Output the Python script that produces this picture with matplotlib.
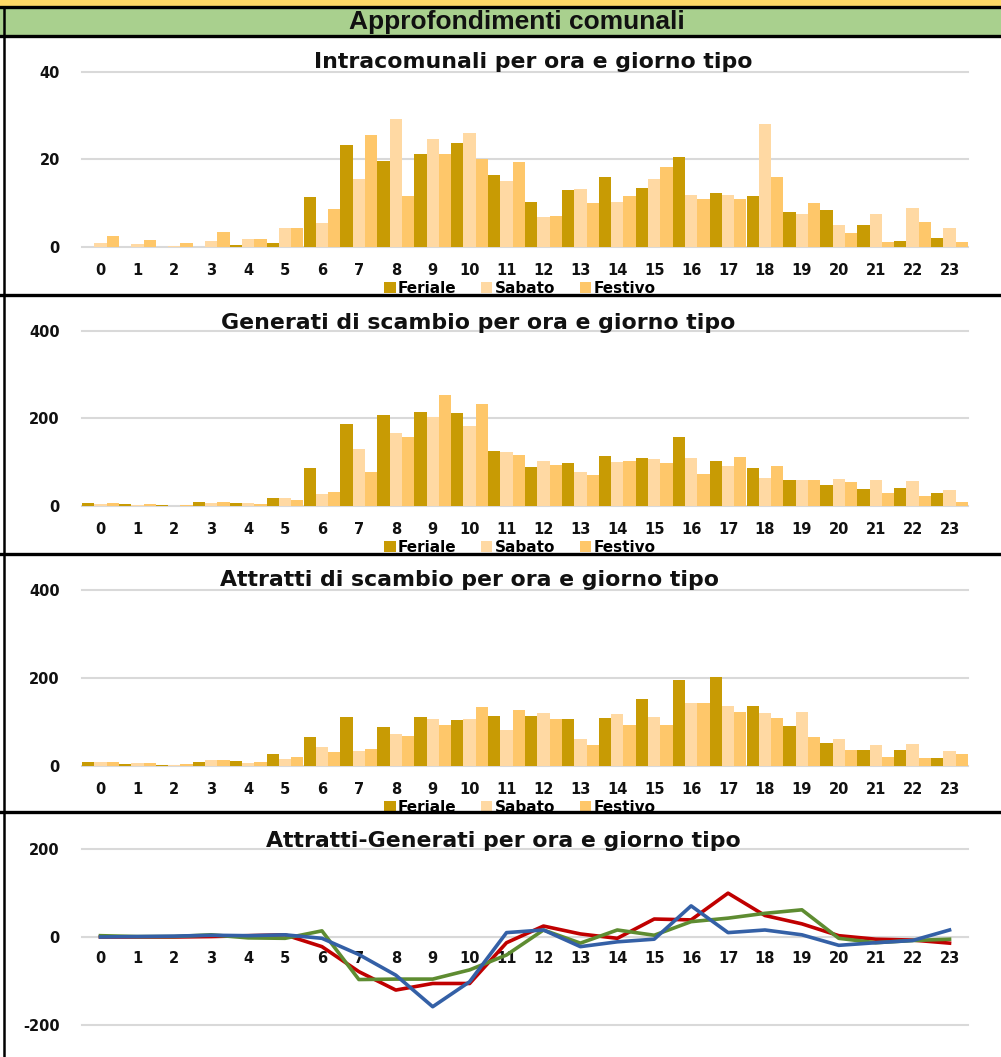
import numpy as np
import matplotlib
matplotlib.use("Agg")
import matplotlib.pyplot as plt
from matplotlib.lines import Line2D
from matplotlib.patches import Rectangle

ore = list(range(24))
serie = ['Feriale', 'Sabato', 'Festivo']

intra_fer = [0, 0, 0, 0, 0.3, 0.9, 11.4, 23.2, 19.6, 21.3, 23.7, 16.3,
             10.3, 13.0, 15.9, 13.5, 20.4, 12.2, 11.6, 7.9, 8.5, 5.0, 1.3, 2.1]
intra_sab = [0.9, 0.6, 0.15, 1.3, 1.75, 4.3, 5.4, 15.4, 29.1, 24.6, 25.9, 15.0,
             6.8, 13.2, 10.3, 15.4, 11.8, 11.9, 28.1, 7.5, 5.0, 7.5, 8.9, 4.3]
intra_fes = [2.4, 1.5, 0.76, 3.3, 1.75, 4.2, 8.7, 25.6, 11.6, 21.3, 20.0, 19.4,
             7.1, 10.0, 11.6, 18.3, 10.9, 10.9, 15.9, 10.0, 3.2, 1.1, 5.7, 1.0]

gen_fer = [5.4, 3, 1.5, 7.7, 6.9, 18.4, 87.4, 187.7, 208.4, 215.3, 211.5, 125.7,
           88.9, 98.9, 114.2, 109.6, 156.3, 102.7, 85.8, 59.8, 47.5, 38.3, 40.6, 29.1]
gen_sab = [3.8, 0.8, 0, 5.4, 6.9, 17.6, 27.6, 129.5, 167, 202.3, 182.4, 122.6,
           101.9, 76.6, 101.1, 106.5, 108.8, 91.2, 63.6, 59.8, 62.1, 59.8, 56.7, 36]
gen_fes = [6.1, 3.8, 0.8, 8.4, 4.6, 13.0, 32.2, 78.2, 156.3, 253.6, 233, 116.5,
           92.7, 70.5, 102.7, 98.1, 72.8, 111.9, 91.2, 59.8, 53.6, 29.1, 22.2, 8.4]

attr_fer = [7.6, 3.8, 1.5, 9.1, 11.4, 26.5, 65.9, 111.4, 87.1, 109.8, 104.5, 112.9,
            112.9, 106, 109, 151.5, 194, 202.3, 135.6, 90.2, 52.3, 34.8, 34.8, 18.2]
attr_sab = [9.1, 5.3, 1.5, 12.1, 6.1, 15.2, 42.4, 32.6, 71.2, 105.3, 106, 81.8,
            118.9, 61.4, 116.7, 110.6, 143.2, 135.6, 118.9, 122.7, 59.8, 47, 48.5, 32.6]
attr_fes = [9.1, 5.3, 3.0, 12.1, 8.3, 18.9, 30.3, 37.1, 68.2, 92.4, 132.6, 126.5,
            106, 47, 92.4, 92.4, 143.2, 122.7, 108.3, 65.2, 35.6, 18.9, 16.7, 25.8]

diff_fer = [0, 0, 0, 1, 3, 5, -22, -79, -121, -106, -106, -13,
            25, 7, -3, 41, 39, 100, 49, 30, 3, -5, -7, -14]
diff_sab = [3, 1, 1, 5, -2, -3, 14, -97, -96, -96, -75, -41,
            16, -14, 16, 4, 35, 43, 54, 62, -3, -13, -8, -5]
diff_fes = [0, 1, 2, 4, 3, 5, -3, -40, -87, -159, -102, 10,
            16, -22, -11, -5, 71, 10, 16, 5, -19, -13, -8, 16]

col_bar = ['#C89B04', '#FFD9A3', '#FEC76A']
col_line = ['#C00000', '#5E8C31', '#3460A6']
grid_col = '#D9D9D9'

plt.rcParams['font.family'] = ['DejaVu Sans']
plt.rcParams['axes.unicode_minus'] = False

W, H = 1001, 1057
fig = plt.figure(figsize=(W / 100, H / 100), dpi=100)


def fy(py):
    return 1 - py / H


def bold_ticks(ax):
    for lab in ax.get_xticklabels() + ax.get_yticklabels():
        lab.set_fontweight('bold')


def make_ax(top_px, bot_px, ylim, yticks):
    ax = fig.add_axes([82 / W, fy(bot_px), 886 / W, (bot_px - top_px) / H])
    ax.set_xlim(-0.5, 23.5)
    ax.set_ylim(*ylim)
    ax.set_yticks(yticks)
    ax.set_xticks(ore)
    ax.set_xticklabels([str(o) for o in ore])
    for s in ax.spines.values():
        s.set_visible(False)
    ax.tick_params(length=0, labelsize=10.5, colors='#111111')
    ax.tick_params(axis='y', pad=16)
    ax.tick_params(axis='x', pad=12)
    for t in yticks:
        ax.axhline(t, color=grid_col, lw=1.5, zorder=0, clip_on=False)
    return ax


def bar_panel(top_px, bot_px, ymax, yticks, dati, titolo, title_xy):
    ax = make_ax(top_px, bot_px, (0, ymax), yticks)
    x = np.arange(len(ore))
    w = 1 / 3
    for i, (vals, c, nome) in enumerate(zip(dati, col_bar, serie)):
        ax.bar(x + (i - 1) * w, vals, width=w, color=c, label=nome, zorder=2)
    leg = ax.legend(loc='upper center', bbox_to_anchor=(0.494, -0.195), ncol=3,
                    frameon=False, fontsize=11, handlelength=0.75,
                    handleheight=0.75, handletextpad=0.15, columnspacing=1.6,
                    borderpad=0, borderaxespad=0)
    for t in leg.get_texts():
        t.set_fontweight('bold')
    bold_ticks(ax)
    fig.text(title_xy[0] / W, fy(title_xy[1]), titolo, ha='center', va='center',
             fontsize=15.8, fontweight='bold', color='#111111')
    return ax


bar_panel(71.7, 246.7, 40, [0, 20, 40], [intra_fer, intra_sab, intra_fes],
          'Intracomunali per ora e giorno tipo', (533, 62))
bar_panel(331, 505.7, 400, [0, 200, 400], [gen_fer, gen_sab, gen_fes],
          'Generati di scambio per ora e giorno tipo', (478, 323))
bar_panel(590, 765.7, 400, [0, 200, 400], [attr_fer, attr_sab, attr_fes],
          'Attratti di scambio per ora e giorno tipo', (470, 580))

ax4 = make_ax(849.3, 1024.7, (-200, 200), [-200, 0, 200])
for vals, c in zip([diff_fer, diff_sab, diff_fes], col_line):
    ax4.plot(ore, vals, color=c, lw=2.6, zorder=3, solid_joinstyle='round')
ax4.spines['bottom'].set_visible(True)
ax4.spines['bottom'].set_position(('data', 0))
ax4.spines['bottom'].set_color(grid_col)
ax4.tick_params(axis='x', pad=10)
bold_ticks(ax4)
fig.text(503 / W, fy(841), 'Attratti-Generati per ora e giorno tipo', ha='center',
         va='center', fontsize=15.8, fontweight='bold', color='#111111')

# cornice stile foglio di calcolo
fig.add_artist(Rectangle((0, fy(7)), 1, 7 / H, transform=fig.transFigure,
                         color='#FFD966', zorder=0))
fig.add_artist(Rectangle((0, fy(36)), 1, 29 / H, transform=fig.transFigure,
                         color='#A9D08E', zorder=0))
fig.text(517 / W, fy(21.5), 'Approfondimenti comunali', ha='center', va='center',
         fontsize=19, fontweight='bold', family=['Liberation Sans', 'DejaVu Sans'],
         color='#111111')
for py in [7, 36, 295, 554, 812]:
    fig.add_artist(Line2D([0, 1], [fy(py), fy(py)], transform=fig.transFigure,
                          color='black', lw=2.4, zorder=10))
fig.add_artist(Line2D([3.5 / W, 3.5 / W], [0, fy(7)], transform=fig.transFigure,
                      color='black', lw=1.8, zorder=10))

fig.savefig('out.png', dpi=100)
